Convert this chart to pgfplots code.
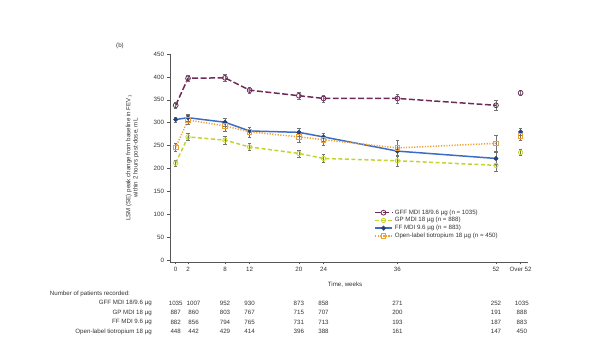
\documentclass[border=0pt]{standalone}
\usepackage{pgfplots}
\pgfplotsset{compat=1.18}
\usepackage{fontspec}
\setmainfont{Liberation Sans}
\definecolor{cGFF}{HTML}{6E2B5A}
\definecolor{cGP}{HTML}{C4D42E}
\definecolor{cFF}{HTML}{3D6CC4}
\definecolor{cOT}{HTML}{F0A030}
\definecolor{axg}{HTML}{555555}
\definecolor{txg}{HTML}{333333}
\newcommand{\fs}{\fontsize{6.2}{7.2}\selectfont}
\begin{document}
\begin{tikzpicture}
\path[use as bounding box] (0,0) rectangle (598bp,354bp);
\node[anchor=center,font=\fs,text=txg] at (120bp,308bp) {(b)};
\begin{axis}[
  at={(170bp,92bp)}, anchor=south west,
  scale only axis, width=358bp, height=208bp,
  xmin=-0.925, xmax=57.2, ymin=-4, ymax=450,
  axis lines*=left, axis line style={axg, line width=0.5pt},
  tick style={axg, line width=0.5pt}, tick align=outside,
  major tick length=2.5bp,
  xtick={0,2,8,12,20,24,36,52,56},
  xticklabels={0,2,8,12,20,24,36,52,Over 52},
  ytick={0,50,...,450},
  /pgf/number format/assume math mode=true,
  tick label style={font=\fs, text=txg},
  xticklabel style={yshift=1bp},
  xlabel={Time, weeks},
  xlabel style={font=\fs, text=txg, at={(axis description cs:0.489,-0.11)}, anchor=center},
  ylabel={LSM (SE) peak change from baseline in FEV\textsubscript{1}\\within 2 hours post-dose, mL},
  ylabel style={font=\fs, text=txg, align=center, at={(axis description cs:-0.105,0.5)}, anchor=center},
  clip=false,
  unbounded coords=jump,
  error bars/y dir=both, error bars/y explicit,
  error bars/error bar style={black!55, line width=0.5pt, solid},
  error bars/error mark options={rotate=90, black!55, mark size=1.8bp, line width=0.5pt, solid},
  legend style={draw=none, fill=none, font=\fs, text=txg, at={(0.57,0.262)}, anchor=north west,
    row sep=-2.2pt, inner sep=0pt, legend cell align=left},
]
\addplot[cGFF, line width=1.5pt, dash pattern=on 6pt off 2.5pt, mark=o, mark size=2.4bp,
  mark options={solid, fill=white, line width=0.8pt}] table[x=x,y=y,y error=e] {
x y e
0 338 6
2 397 7
8 398 7
12 371 7
20 359 8
24 353 8
36 353 10
52 338 10
54 nan 0
56 365 6
};
\addlegendentry{GFF MDI 18/9.6 \textmu g (n = 1035)}
\addplot[cGP, line width=1.5pt, dash pattern=on 4pt off 2.5pt, mark=o, mark size=2.2bp,
  mark options={solid, fill=white, line width=0.8pt}] table[x=x,y=y,y error=e] {
x y e
0 212 6
2 269 8
8 262 8
12 247 8
20 233 8
24 222 9
36 217 12
52 207 13
54 nan 0
56 235 7
};
\addlegendentry{GP MDI 18 \textmu g (n = 888)}
\addplot[cFF, line width=1.5pt, mark=*, mark size=1.5bp,
  mark options={solid, fill=cFF!60!black, draw=cFF!60!black}] table[x=x,y=y,y error=e] {
x y e
0 307 6
2 311 7
8 301 8
12 282 8
20 279 9
24 269 9
36 238 12
52 222 13
54 nan 0
56 280 7
};
\addlegendentry{FF MDI 9.6 \textmu g (n = 883)}
\addplot[cOT, line width=1.5pt, dash pattern=on 1.2pt off 1.5pt, mark=square, mark size=2.3bp,
  mark options={solid, fill=white, line width=0.9pt}] table[x=x,y=y,y error=e] {
x y e
0 246 9
2 306 10
8 293 11
12 280 11
20 269 12
24 263 13
36 245 16
52 255 17
54 nan 0
56 271 9
};
\addlegendentry{Open-label tiotropium 18 \textmu g (n = 450)}
% patient numbers table
\begin{scope}[every node/.style={font=\fs, text=txg, inner sep=0pt}]
\node[anchor=west] at (axis cs:-20.45,-74) {Number of patients recorded:};
\node[anchor=east] at (axis cs:-3.85,-94) {GFF MDI 18/9.6 \textmu g};
\node[anchor=east] at (axis cs:-3.85,-114.5) {GP MDI 18 \textmu g};
\node[anchor=east] at (axis cs:-3.85,-135) {FF MDI 9.6 \textmu g};
\node[anchor=east] at (axis cs:-3.85,-155.5) {Open-label tiotropium 18 \textmu g};
% row 1
\node at (axis cs:0,-94) {1035}; \node at (axis cs:2.9,-94) {1007}; \node at (axis cs:8,-94) {952};
\node at (axis cs:12,-94) {930}; \node at (axis cs:20,-94) {873}; \node at (axis cs:24,-94) {858};
\node at (axis cs:36,-94) {271}; \node at (axis cs:52,-94) {252}; \node at (axis cs:56.2,-94) {1035};
% row 2
\node at (axis cs:0,-114.5) {887}; \node at (axis cs:2.9,-114.5) {860}; \node at (axis cs:8,-114.5) {803};
\node at (axis cs:12,-114.5) {767}; \node at (axis cs:20,-114.5) {715}; \node at (axis cs:24,-114.5) {707};
\node at (axis cs:36,-114.5) {200}; \node at (axis cs:52,-114.5) {191}; \node at (axis cs:56.2,-114.5) {888};
% row 3
\node at (axis cs:0,-135) {882}; \node at (axis cs:2.9,-135) {856}; \node at (axis cs:8,-135) {794};
\node at (axis cs:12,-135) {765}; \node at (axis cs:20,-135) {731}; \node at (axis cs:24,-135) {713};
\node at (axis cs:36,-135) {193}; \node at (axis cs:52,-135) {187}; \node at (axis cs:56.2,-135) {883};
% row 4
\node at (axis cs:0,-155.5) {448}; \node at (axis cs:2.9,-155.5) {442}; \node at (axis cs:8,-155.5) {429};
\node at (axis cs:12,-155.5) {414}; \node at (axis cs:20,-155.5) {396}; \node at (axis cs:24,-155.5) {388};
\node at (axis cs:36,-155.5) {161}; \node at (axis cs:52,-155.5) {147}; \node at (axis cs:56.2,-155.5) {450};
\end{scope}
\end{axis}
\end{tikzpicture}
\end{document}
